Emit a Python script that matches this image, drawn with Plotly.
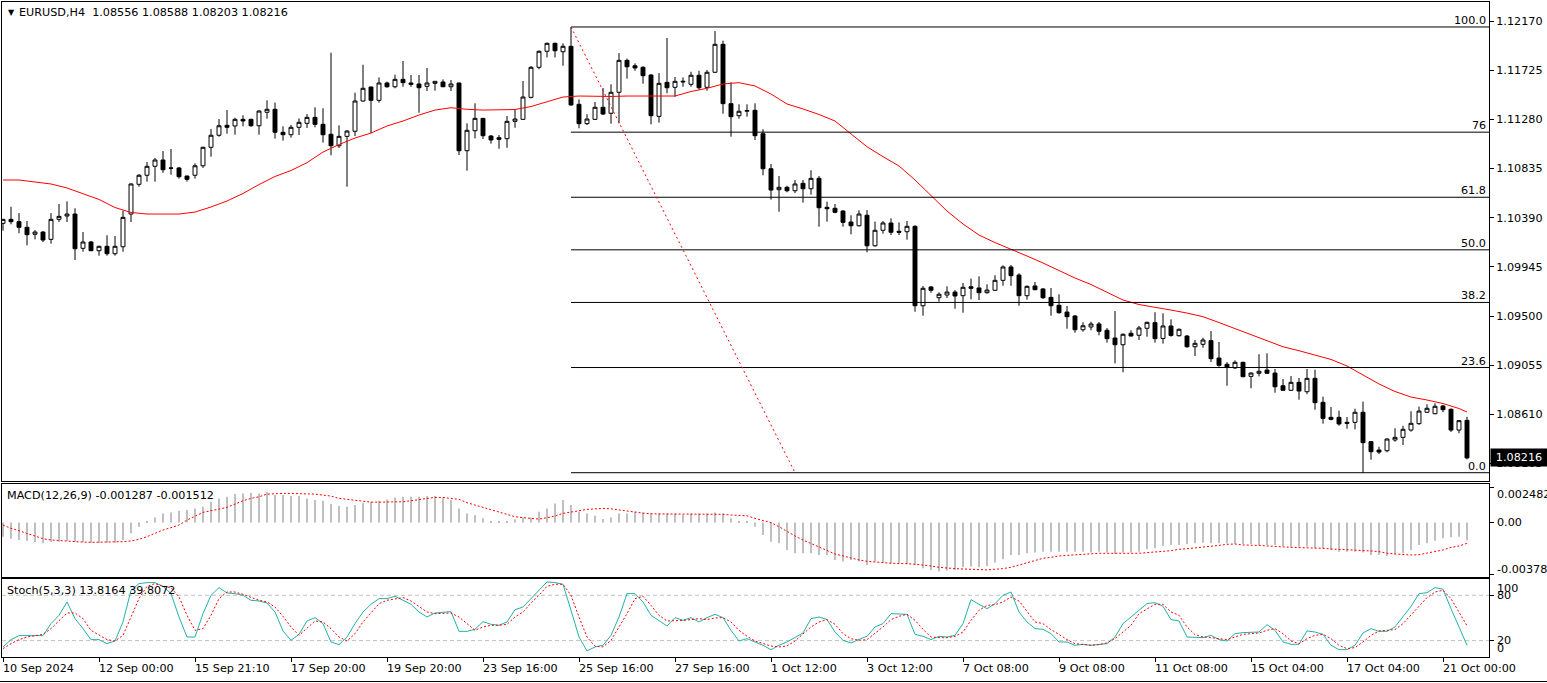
import plotly.graph_objects as go

# ---------------- data ----------------
symbol_title = "EURUSD,H4  1.08556 1.08588 1.08203 1.08216"
macd_title = "MACD(12,26,9) -0.001287 -0.001512"
stoch_title = "Stoch(5,3,3) 13.8164 39.8072"

opens = [1.10339,1.10375,1.10354,1.10303,1.10240,1.10260,1.10194,1.10375,1.10405,1.10423,
1.10113,1.10170,1.10091,1.10131,1.10064,1.10127,1.10423,1.10692,1.10774,1.10855,
1.10912,1.10840,1.10840,1.10767,1.10774,1.10860,1.11027,1.11136,1.11226,1.11220,
1.11280,1.11280,1.11222,1.11344,1.11371,1.11163,1.11141,1.11208,1.11244,1.11298,
1.11235,1.11145,1.11041,1.11126,1.11172,1.11446,1.11573,1.11452,1.11609,1.11575,
1.11642,1.11609,1.11600,1.11579,1.11606,1.11618,1.11575,1.11609,1.10996,1.11177,
1.11289,1.11129,1.11114,1.11105,1.11262,1.11280,1.11479,1.11751,1.11896,1.11968,
1.11892,1.11941,1.11416,1.11241,1.11280,1.11389,1.11335,1.11525,1.11814,1.11765,
1.11751,1.11681,1.11307,1.11615,1.11570,1.11618,1.11597,1.11679,1.11570,1.11706,
1.11959,1.11422,1.11313,1.11353,1.11362,1.11150,1.10833,1.10643,1.10665,1.10634,
1.10701,1.10652,1.10746,1.10484,1.10475,1.10450,1.10351,1.10317,1.10412,1.10136,
1.10276,1.10342,1.10267,1.10263,1.10312,1.09593,1.09763,1.09666,1.09690,1.09717,
1.09684,1.09765,1.09754,1.09711,1.09733,1.09823,1.09944,1.09871,1.09684,1.09772,
1.09745,1.09669,1.09597,1.09536,1.09500,1.09376,1.09401,1.09428,1.09371,1.09301,
1.09240,1.09344,1.09326,1.09389,1.09440,1.09297,1.09410,1.09322,1.09319,1.09222,
1.09244,1.09277,1.09120,1.09063,1.09030,1.09081,1.08954,1.08982,1.09011,1.08984,
1.08869,1.08828,1.08900,1.08815,1.08936,1.08719,1.08583,1.08583,1.08538,1.08538,
1.08629,1.08363,1.08287,1.08281,1.08378,1.08402,1.08468,1.08526,1.08629,1.08616,
1.08686,1.08656,1.08468,1.08556]
highs = [1.10378,1.10489,1.10432,1.10360,1.10278,1.10269,1.10432,1.10514,1.10538,1.10475,
1.10260,1.10179,1.10135,1.10231,1.10224,1.10453,1.10701,1.10785,1.10894,1.10930,
1.10993,1.11012,1.10849,1.10770,1.10882,1.11032,1.11193,1.11283,1.11364,1.11295,
1.11317,1.11286,1.11364,1.11452,1.11431,1.11217,1.11229,1.11289,1.11328,1.11389,
1.11380,1.11883,1.11226,1.11183,1.11521,1.11774,1.11575,1.11660,1.11621,1.11684,
1.11808,1.11681,1.11681,1.11745,1.11624,1.11642,1.11636,1.11612,1.11244,1.11425,
1.11292,1.11138,1.11138,1.11310,1.11371,1.11627,1.11762,1.11903,1.11975,1.11975,
1.11968,1.12116,1.11461,1.11326,1.11437,1.11564,1.11597,1.11880,1.11829,1.11787,
1.11760,1.11690,1.11699,1.12016,1.11663,1.11660,1.11711,1.11720,1.11726,1.12079,
1.11992,1.11615,1.11416,1.11416,1.11425,1.11190,1.10876,1.10767,1.10679,1.10731,
1.10731,1.10819,1.10767,1.10535,1.10514,1.10459,1.10412,1.10457,1.10459,1.10354,
1.10360,1.10384,1.10348,1.10360,1.10321,1.09772,1.09772,1.09715,1.09769,1.09735,
1.09799,1.09838,1.09859,1.09787,1.09869,1.09959,1.09962,1.09887,1.09776,1.09808,
1.09754,1.09754,1.09697,1.09591,1.09509,1.09443,1.09449,1.09446,1.09392,1.09545,
1.09342,1.09371,1.09410,1.09449,1.09534,1.09525,1.09470,1.09387,1.09328,1.09283,
1.09304,1.09364,1.09265,1.09084,1.09099,1.09087,1.08991,1.09154,1.09163,1.09021,
1.08930,1.08957,1.08939,1.09021,1.09014,1.08770,1.08677,1.08643,1.08586,1.08661,
1.08725,1.08366,1.08317,1.08393,1.08484,1.08507,1.08638,1.08680,1.08701,1.08710,
1.08695,1.08663,1.08559,1.08588]
lows = [1.10272,1.10330,1.10249,1.10140,1.10194,1.10170,1.10155,1.10351,1.10351,1.10007,
1.10082,1.10088,1.10046,1.10046,1.10046,1.10082,1.10351,1.10670,1.10716,1.10716,
1.10797,1.10779,1.10743,1.10716,1.10743,1.10840,1.10942,1.11123,1.11150,1.11141,
1.11217,1.11213,1.11141,1.11286,1.11105,1.11087,1.11114,1.11138,1.11202,1.11208,
1.11069,1.10955,1.11021,1.10670,1.11129,1.11440,1.11154,1.11431,1.11566,1.11561,
1.11575,1.11575,1.11340,1.11536,1.11539,1.11575,1.11536,1.10957,1.10815,1.11108,
1.11102,1.11060,1.11014,1.11023,1.11204,1.11277,1.11469,1.11733,1.11841,1.11841,
1.11765,1.11403,1.11199,1.11229,1.11274,1.11319,1.11241,1.11244,1.11648,1.11720,
1.11603,1.11235,1.11250,1.11516,1.11485,1.11575,1.11575,1.11548,1.11539,1.11700,
1.11331,1.11123,1.11286,1.11304,1.11093,1.10774,1.10553,1.10444,1.10620,1.10613,
1.10526,1.10598,1.10308,1.10354,1.10430,1.10308,1.10240,1.10310,1.10077,1.10127,
1.10245,1.10233,1.10233,1.10191,1.09539,1.09503,1.09711,1.09630,1.09663,1.09566,
1.09530,1.09651,1.09645,1.09702,1.09726,1.09774,1.09774,1.09593,1.09648,1.09735,
1.09654,1.09503,1.09521,1.09385,1.09349,1.09358,1.09371,1.09326,1.09259,1.09072,
1.08991,1.09316,1.09283,1.09313,1.09259,1.09250,1.09313,1.09313,1.09213,1.09138,
1.09213,1.09084,1.09041,1.08869,1.09023,1.08945,1.08846,1.08954,1.08975,1.08806,
1.08824,1.08821,1.08743,1.08792,1.08652,1.08526,1.08556,1.08507,1.08480,1.08475,
1.08082,1.08200,1.08251,1.08267,1.08363,1.08333,1.08453,1.08514,1.08622,1.08611,
1.08629,1.08450,1.08439,1.08203]
closes = [1.10375,1.10354,1.10303,1.10236,1.10260,1.10188,1.10375,1.10402,1.10423,1.10109,
1.10170,1.10091,1.10131,1.10064,1.10131,1.10393,1.10695,1.10774,1.10855,1.10912,
1.10824,1.10838,1.10761,1.10737,1.10860,1.11027,1.11136,1.11222,1.11208,1.11280,
1.11265,1.11222,1.11355,1.11371,1.11163,1.11141,1.11208,1.11253,1.11298,1.11235,
1.11141,1.11041,1.11126,1.11174,1.11446,1.11561,1.11452,1.11609,1.11575,1.11642,
1.11612,1.11597,1.11566,1.11609,1.11624,1.11575,1.11600,1.10996,1.11181,1.11289,
1.11132,1.11093,1.11099,1.11262,1.11283,1.11482,1.11751,1.11896,1.11968,1.11901,
1.11941,1.11410,1.11241,1.11283,1.11389,1.11328,1.11525,1.11814,1.11756,1.11745,
1.11675,1.11313,1.11606,1.11566,1.11624,1.11624,1.11679,1.11566,1.11706,1.11959,
1.11422,1.11304,1.11353,1.11360,1.11132,1.10833,1.10640,1.10665,1.10634,1.10695,
1.10652,1.10746,1.10480,1.10471,1.10439,1.10348,1.10317,1.10423,1.10136,1.10276,
1.10342,1.10258,1.10258,1.10312,1.09593,1.09751,1.09733,1.09697,1.09717,1.09681,
1.09760,1.09751,1.09711,1.09735,1.09823,1.09944,1.09865,1.09684,1.09769,1.09738,
1.09666,1.09593,1.09530,1.09494,1.09376,1.09412,1.09428,1.09362,1.09295,1.09240,
1.09335,1.09319,1.09392,1.09443,1.09295,1.09410,1.09324,1.09380,1.09222,1.09253,
1.09283,1.09114,1.09054,1.09036,1.09081,1.08951,1.08984,1.09000,1.08982,1.08860,
1.08828,1.08900,1.08821,1.08936,1.08716,1.08574,1.08565,1.08523,1.08529,1.08629,
1.08354,1.08272,1.08269,1.08387,1.08402,1.08475,1.08529,1.08640,1.08665,1.08683,
1.08652,1.08468,1.08553,1.08216]

ma_bars = [0,2,4,6,8,10,12,14,16,18,20,22,24,26,28,30,32,34,36,38,40,42,44,46,48,50,
52,54,56,58,60,62,64,66,68,70,72,74,76,78,80,82,84,86,88,90,92,94,96,98,100,102,104,
106,108,110,112,114,116,118,120,122,124,126,128,130,132,134,136,138,140,142,144,146,
148,150,152,154,156,158,160,162,164,166,168,170,172,174,176,178,180,182,183]
ma_vals = [1.10731,1.10731,1.10713,1.10695,1.10659,1.10609,1.10555,1.10482,1.10437,1.10423,
1.10423,1.10423,1.10441,1.10487,1.10541,1.10609,1.10690,1.10763,1.10817,1.10888,
1.10984,1.11052,1.11111,1.11156,1.11220,1.11265,1.11319,1.11364,1.11385,1.11371,
1.11364,1.11364,1.11369,1.11396,1.11437,1.11482,1.11491,1.11487,1.11487,1.11491,
1.11494,1.11491,1.11491,1.11532,1.11561,1.11600,1.11612,1.11582,1.11509,1.11419,
1.11374,1.11324,1.11265,1.11147,1.11032,1.10942,1.10858,1.10731,1.10586,1.10450,
1.10333,1.10233,1.10165,1.10107,1.10043,1.09980,1.09912,1.09844,1.09785,1.09717,
1.09645,1.09604,1.09582,1.09554,1.09527,1.09494,1.09441,1.09387,1.09328,1.09274,
1.09222,1.09186,1.09147,1.09107,1.09048,1.08966,1.08885,1.08817,1.08767,1.08740,
1.08708,1.08663,1.08631]

macd_hist = [-0.00103,-0.00118,-0.00127,-0.00134,-0.00142,-0.00151,-0.00142,-0.00139,-0.00134,-0.00142,
-0.00144,-0.00146,-0.00149,-0.00146,-0.00146,-0.00127,-0.00079,-0.00031,0.00005,0.00036,
0.00065,0.00072,0.00084,0.00089,0.00101,0.00113,0.00149,0.00173,0.00185,0.00204,
0.00209,0.00214,0.00209,0.00221,0.00197,0.00197,0.00190,0.00190,0.00173,0.00161,
0.00156,0.00132,0.00118,0.00113,0.00125,0.00142,0.00149,0.00156,0.00166,0.00180,
0.00185,0.00185,0.00185,0.00190,0.00190,0.00180,0.00161,0.00101,0.00065,0.00053,
0.00029,0.00005,0.00005,0.00005,0.00022,0.00036,0.00036,0.00077,0.00101,0.00137,
0.00161,0.00125,0.00077,0.00065,0.00048,0.00024,0.00036,0.00065,0.00065,0.00077,
0.00072,0.00065,0.00065,0.00065,0.00065,0.00053,0.00065,0.00065,0.00065,0.00072,
0.00065,0.00029,0.00005,0.00005,-0.00031,-0.00091,-0.00139,-0.00151,-0.00199,-0.00223,
-0.00223,-0.00223,-0.00235,-0.00235,-0.00271,-0.00283,-0.00271,-0.00283,-0.00307,-0.00283,
-0.00290,-0.00295,-0.00295,-0.00300,-0.00307,-0.00331,-0.00343,-0.00355,-0.00348,-0.00343,
-0.00324,-0.00319,-0.00324,-0.00314,-0.00290,-0.00266,-0.00235,-0.00235,-0.00223,-0.00218,
-0.00211,-0.00211,-0.00211,-0.00211,-0.00211,-0.00211,-0.00218,-0.00211,-0.00218,-0.00228,
-0.00218,-0.00218,-0.00211,-0.00194,-0.00187,-0.00168,-0.00163,-0.00163,-0.00156,-0.00151,
-0.00146,-0.00151,-0.00151,-0.00151,-0.00156,-0.00156,-0.00156,-0.00163,-0.00163,-0.00163,
-0.00170,-0.00175,-0.00175,-0.00175,-0.00187,-0.00187,-0.00199,-0.00211,-0.00211,-0.00211,
-0.00218,-0.00235,-0.00235,-0.00242,-0.00228,-0.00223,-0.00199,-0.00163,-0.00151,-0.00132,
-0.00115,-0.00108,-0.00103,-0.00129]
macd_signal = [-0.00019,-0.00043,-0.00060,-0.00079,-0.00098,-0.00118,-0.00127,-0.00132,-0.00134,-0.00139,
-0.00142,-0.00144,-0.00144,-0.00144,-0.00144,-0.00139,-0.00134,-0.00122,-0.00103,-0.00079,
-0.00055,-0.00038,-0.00019,0.00017,0.00046,0.00072,0.00084,0.00096,0.00108,0.00132,
0.00156,0.00173,0.00185,0.00204,0.00209,0.00209,0.00209,0.00209,0.00209,0.00204,
0.00197,0.00190,0.00173,0.00166,0.00156,0.00149,0.00146,0.00146,0.00146,0.00146,
0.00149,0.00156,0.00166,0.00173,0.00180,0.00180,0.00173,0.00166,0.00142,0.00125,
0.00113,0.00094,0.00077,0.00060,0.00041,0.00034,0.00029,0.00024,0.00034,0.00046,
0.00065,0.00072,0.00084,0.00094,0.00098,0.00101,0.00098,0.00089,0.00082,0.00072,
0.00067,0.00062,0.00060,0.00060,0.00060,0.00060,0.00060,0.00060,0.00060,0.00058,
0.00058,0.00053,0.00053,0.00048,0.00029,0.00012,-0.00002,-0.00031,-0.00067,-0.00098,
-0.00127,-0.00151,-0.00180,-0.00204,-0.00228,-0.00242,-0.00257,-0.00271,-0.00281,-0.00288,
-0.00290,-0.00295,-0.00295,-0.00298,-0.00302,-0.00307,-0.00314,-0.00324,-0.00331,-0.00334,
-0.00336,-0.00338,-0.00343,-0.00343,-0.00338,-0.00334,-0.00324,-0.00307,-0.00290,-0.00271,
-0.00259,-0.00252,-0.00242,-0.00238,-0.00233,-0.00228,-0.00223,-0.00223,-0.00223,-0.00223,
-0.00228,-0.00228,-0.00223,-0.00218,-0.00211,-0.00209,-0.00204,-0.00194,-0.00190,-0.00185,
-0.00175,-0.00170,-0.00166,-0.00158,-0.00156,-0.00163,-0.00163,-0.00166,-0.00170,-0.00175,
-0.00180,-0.00180,-0.00182,-0.00182,-0.00182,-0.00187,-0.00192,-0.00194,-0.00199,-0.00199,
-0.00204,-0.00206,-0.00211,-0.00223,-0.00228,-0.00233,-0.00235,-0.00233,-0.00223,-0.00211,
-0.00199,-0.00180,-0.00170,-0.00151]

stoch_main = [11.6,21.3,26.6,26.6,26.6,26.6,42.5,53.5,71.2,49.1,
35.9,21.3,21.3,16.0,19.5,44.7,86.6,95.5,96.8,96.8,
91.9,82.2,51.3,24.8,24.8,55.7,80.0,90.2,83.1,82.2,
80.0,73.4,72.5,69.8,57.9,32.7,20.4,28.3,46.0,50.4,
42.5,18.2,14.7,24.8,42.5,57.9,68.1,75.6,75.6,78.7,
73.4,68.1,57.9,51.3,56.6,57.5,58.4,32.3,32.3,35.0,
45.1,41.6,40.3,44.7,61.0,64.5,75.6,86.6,97.7,96.8,
94.6,60.1,24.8,6.3,11.6,13.8,27.0,51.3,82.2,82.2,
71.2,53.5,46.9,39.4,50.4,46.9,50.4,44.7,50.4,54.8,
50.4,33.6,19.5,22.6,18.2,13.8,8.0,13.8,18.2,23.9,
30.1,49.1,51.3,47.8,31.4,20.4,16.9,21.7,25.7,38.1,
42.5,55.7,55.7,54.8,28.3,25.7,21.3,25.7,24.8,27.0,
42.5,74.3,68.1,62.3,69.0,80.0,84.4,57.9,44.7,35.9,
35.0,29.2,18.2,18.2,13.8,15.1,13.8,15.1,16.0,24.8,
42.5,51.3,60.1,69.0,70.3,65.4,47.8,46.0,24.8,23.9,
23.9,27.0,21.3,19.5,29.2,30.6,30.6,31.4,41.1,33.6,
18.2,15.1,15.1,32.8,31.4,28.3,13.8,8.0,8.0,13.8,
30.1,35.9,32.3,32.3,38.1,51.3,65.4,82.2,83.5,90.2,
88.0,62.3,38.1,13.8]
stoch_signal = [9.4,16.0,21.3,24.8,26.6,28.3,35.9,46.0,56.6,56.6,
49.1,33.6,27.0,21.3,19.5,27.0,51.3,75.6,91.9,95.5,
91.9,90.2,77.8,53.5,33.6,35.9,53.5,75.6,84.4,84.4,
81.3,76.9,73.4,71.2,64.5,52.1,38.1,27.0,35.9,46.0,
44.7,35.9,24.8,19.5,29.2,44.7,56.6,69.0,73.4,75.6,
76.9,72.5,65.4,57.9,55.7,55.7,56.6,51.3,42.5,33.6,
38.1,40.3,40.3,41.6,51.3,57.9,69.8,80.0,91.9,94.6,
94.6,80.0,51.3,24.8,12.5,11.6,20.4,38.1,55.7,75.6,
78.7,66.7,53.5,46.0,46.0,46.9,47.8,49.1,47.8,50.0,
50.4,44.7,33.6,25.7,19.5,16.0,12.9,11.6,12.9,19.5,
28.3,38.1,44.7,47.8,41.6,29.2,22.6,20.4,21.3,29.2,
38.1,47.8,52.2,54.8,46.9,35.0,24.8,23.9,23.9,25.7,
31.4,46.9,60.1,66.7,67.6,71.2,77.8,72.5,57.9,44.7,
42.5,34.5,28.3,21.3,16.0,14.7,13.8,14.7,16.9,22.6,
31.4,40.3,55.7,62.3,68.1,68.1,57.9,53.5,38.1,27.9,
24.8,23.9,22.6,21.3,24.8,28.3,29.2,30.1,33.6,35.9,
29.2,19.5,16.0,22.6,27.0,28.3,22.6,13.8,9.4,10.7,
18.2,27.0,32.8,33.6,34.5,42.5,53.5,65.4,76.9,84.4,
86.6,75.6,57.9,39.8]

price_ticks = [1.12170,1.11725,1.11280,1.10835,1.10390,1.09945,1.09500,1.09055,1.08610,1.08165]
date_idx = [0,12,24,36,48,60,72,84,96,108,120,132,144,156,168,180]
date_labels = ["10 Sep 2024","12 Sep 00:00","15 Sep 21:10","17 Sep 20:00","19 Sep 20:00",
               "23 Sep 16:00","25 Sep 16:00","27 Sep 16:00","1 Oct 12:00","3 Oct 12:00",
               "7 Oct 08:00","9 Oct 08:00","11 Oct 08:00","15 Oct 04:00","17 Oct 04:00",
               "21 Oct 00:00"]

fib_high_bar, fib_low_bar = 71, 99
fib_high, fib_low = 1.12116, 1.08082
fib_levels = [0.0, 23.6, 38.2, 50.0, 61.8, 76.4, 100.0]
fib_labels = ["0.0", "23.6", "38.2", "50.0", "61.8", "76", "100.0"]

macd_labels = ["0.002482", "0.00", "-0.003788"]
stoch_labels = ["100", "80", "20", "0"]
stoch_levels = [80, 20]

# ---------------- layout helpers ----------------
W, H = 1547, 683
ML, MR, MT, MB = 2, 58, 2, 26
PW, PH = W - ML - MR, H - MT - MB
def pxx(x):  # pixel x -> paper
    return (x - ML) / PW
def pxy(y):  # pixel y -> paper
    return (H - MB - y) / PH

FONT = "DejaVu Sans"
FS = 11.2
XR = [-0.125, 185.75]
bars = list(range(len(opens)))

fig = go.Figure()

# main candles
fig.add_trace(go.Candlestick(
    x=bars, open=opens, high=highs, low=lows, close=closes,
    increasing=dict(fillcolor="white", line=dict(color="black", width=1)),
    decreasing=dict(fillcolor="black", line=dict(color="black", width=1)),
    whiskerwidth=0, xaxis="x", yaxis="y", hoverinfo="skip", showlegend=False))

# moving average
fig.add_trace(go.Scatter(x=ma_bars, y=ma_vals, mode="lines",
                         line=dict(color="#FF0000", width=1), xaxis="x", yaxis="y",
                         hoverinfo="skip", showlegend=False))

# fibonacci levels
rng = fib_high - fib_low
for lvl, lab in zip(fib_levels, fib_labels):
    p = fib_low + lvl / 100.0 * rng
    fig.add_trace(go.Scatter(x=[fib_high_bar, XR[1]], y=[p, p], mode="lines",
                             line=dict(color="black", width=1), xaxis="x", yaxis="y",
                             hoverinfo="skip", showlegend=False))
    fig.add_annotation(x=1, xref="paper", y=p, yref="y", text=lab, showarrow=False,
                       xanchor="right", yanchor="bottom", xshift=-1, yshift=-2,
                       font=dict(family=FONT, size=FS, color="black"))
fig.add_trace(go.Scatter(x=[fib_high_bar, fib_low_bar], y=[fib_high, fib_low], mode="lines",
                         line=dict(color="#FF0000", width=1, dash="2px,3px"), xaxis="x", yaxis="y",
                         hoverinfo="skip", showlegend=False))

# MACD
fig.add_trace(go.Bar(x=bars, y=macd_hist, width=0.15, marker=dict(color="#C0C0C0", line=dict(width=0)),
                     xaxis="x2", yaxis="y2", hoverinfo="skip", showlegend=False))
fig.add_trace(go.Scatter(x=bars, y=macd_signal, mode="lines",
                         line=dict(color="#FF0000", width=1, dash="2px,2px"), xaxis="x2", yaxis="y2",
                         hoverinfo="skip", showlegend=False))

# Stochastic
for lv in stoch_levels:
    fig.add_shape(type="line", xref="x3", yref="y3", x0=XR[0], x1=XR[1], y0=lv, y1=lv,
                  line=dict(color="#C0C0C0", width=1, dash="4px,3px"), layer="below")
fig.add_trace(go.Scatter(x=bars, y=stoch_main, mode="lines",
                         line=dict(color="#20B2AA", width=1), xaxis="x3", yaxis="y3",
                         hoverinfo="skip", showlegend=False))
fig.add_trace(go.Scatter(x=bars, y=stoch_signal, mode="lines",
                         line=dict(color="#FF0000", width=1, dash="2px,2px"), xaxis="x3", yaxis="y3",
                         hoverinfo="skip", showlegend=False))

axis_common = dict(showgrid=False, zeroline=False, showline=True, mirror=True,
                   linecolor="black", linewidth=1)
tickfont = dict(family=FONT, size=FS, color="black")

fig.update_layout(
    width=W, height=H, margin=dict(l=ML, r=MR, t=MT, b=MB),
    paper_bgcolor="white", plot_bgcolor="white", hovermode=False, showlegend=False,
    xaxis=dict(domain=[0, 1], range=XR, anchor="y", showticklabels=False, ticks="",
               rangeslider=dict(visible=False), **axis_common),
    xaxis2=dict(domain=[0, 1], range=XR, anchor="y2", showticklabels=False, ticks="", **axis_common),
    xaxis3=dict(domain=[0, 1], range=XR, anchor="y3", showticklabels=False, ticks="outside",
                tickvals=date_idx, ticklen=4, tickcolor="black", **axis_common),
    yaxis=dict(domain=[pxy(481), 1], range=[1.08007, 1.12342], anchor="x", side="right",
               tickvals=price_ticks, ticktext=[f"{v:.5f}" for v in price_ticks],
               ticks="outside", ticklen=4, tickcolor="black", tickfont=tickfont, **axis_common),
    yaxis2=dict(domain=[pxy(577), pxy(484)], range=[-0.00394, 0.00277], anchor="x2", side="right",
                tickvals=[0.002482, 0, -0.003788], showticklabels=False, ticks="outside",
                ticklen=4, tickcolor="black", **axis_common),
    yaxis3=dict(domain=[0, pxy(579)], range=[-1.7, 101.6], anchor="x3", side="right",
                tickvals=[80, 20], showticklabels=False, ticks="outside",
                ticklen=4, tickcolor="black", **axis_common),
)

# x date labels
for idx, lab in zip(date_idx, date_labels):
    fig.add_annotation(x=idx, xref="x3", y=pxy(668), yref="paper", text=lab, showarrow=False,
                       xanchor="left", yanchor="middle", xshift=-2,
                       font=dict(family=FONT, size=FS, color="black"))

# MACD / Stoch right labels
for lab, yy in zip(macd_labels, [494, 522.3, 569.5]):
    fig.add_annotation(x=pxx(1495), xref="paper", y=pxy(yy), yref="paper", text=lab,
                       showarrow=False, xanchor="left", yanchor="middle",
                       font=dict(family=FONT, size=FS, color="black"))
for lab, yy in zip(stoch_labels, [588, 595.5, 640, 648]):
    fig.add_annotation(x=pxx(1495), xref="paper", y=pxy(yy), yref="paper", text=lab,
                       showarrow=False, xanchor="left", yanchor="middle",
                       font=dict(family=FONT, size=FS, color="black"))

# titles
fig.add_annotation(x=pxx(6), xref="paper", y=pxy(12), yref="paper", text="▼", showarrow=False,
                   xanchor="left", yanchor="middle", font=dict(family=FONT, size=8, color="black"))
fig.add_annotation(x=pxx(17), xref="paper", y=pxy(13), yref="paper", text=symbol_title,
                   showarrow=False, xanchor="left", yanchor="middle",
                   font=dict(family=FONT, size=FS, color="black"))
fig.add_annotation(x=pxx(5), xref="paper", y=pxy(495), yref="paper", text=macd_title,
                   showarrow=False, xanchor="left", yanchor="middle",
                   font=dict(family=FONT, size=FS, color="black"))
fig.add_annotation(x=pxx(5), xref="paper", y=pxy(590), yref="paper", text=stoch_title,
                   showarrow=False, xanchor="left", yanchor="middle",
                   font=dict(family=FONT, size=FS, color="black"))

# current price tag
fig.add_annotation(x=1, xref="paper", y=closes[-1], yref="y", text=f"{closes[-1]:.5f}",
                   showarrow=False, xanchor="left", yanchor="middle", xshift=1,
                   bgcolor="black", borderpad=2, width=52, align="center",
                   font=dict(family=FONT, size=FS, color="white"))

# window bottom border
fig.add_shape(type="line", xref="paper", yref="paper", x0=pxx(0), x1=pxx(W), y0=pxy(681.5), y1=pxy(681.5),
              line=dict(color="black", width=1))

fig.write_html("out.html")
